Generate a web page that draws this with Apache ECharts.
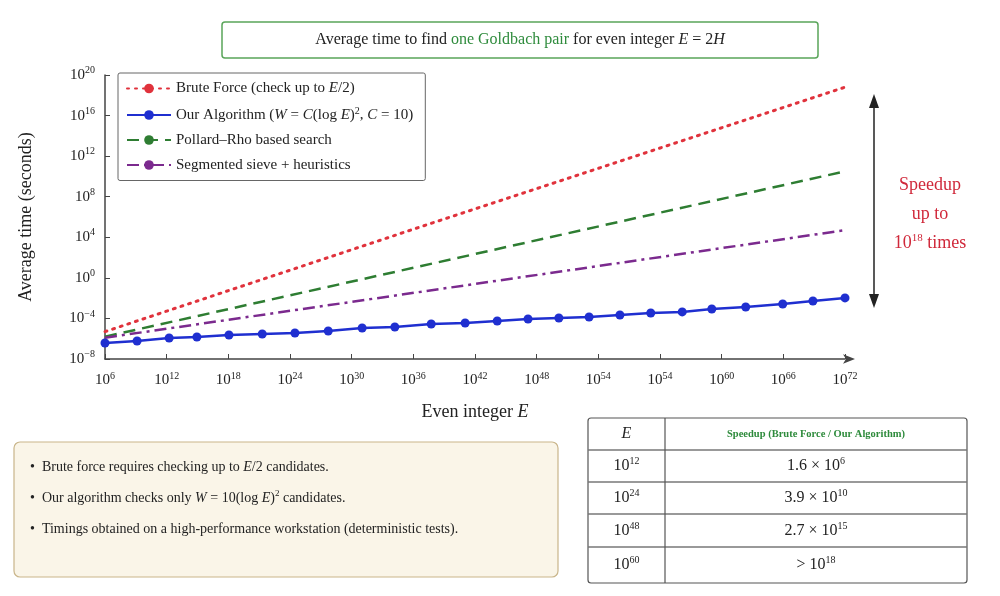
<!DOCTYPE html>
<html>
<head>
<meta charset="utf-8">
<script src="https://cdn.jsdelivr.net/npm/echarts@6/dist/echarts.min.js"></script>
<style>
	html, body { margin: 0; padding: 0; background: #fff; }
	#chart { width: 1000px; height: 596px; }
</style>
</head>
<body>
<div id="chart"></div>
<script>
( function() {

	const serif = '"Liberation Serif", "DejaVu Serif", serif';

	// x positions are in axis units (one unit per labelled tick), y values are log10(seconds)
	const xLabels = ['6', '12', '18', '24', '30', '36', '42', '48', '54', '54', '60', '66', '72'];

	const ours = [
		[0, -6.42], [0.52, -6.22], [1.04, -5.93], [1.49, -5.83], [2.01, -5.63], [2.55, -5.53],
		[3.08, -5.44], [3.62, -5.24], [4.17, -4.94], [4.70, -4.84], [5.29, -4.55], [5.84, -4.45],
		[6.36, -4.25], [6.86, -4.06], [7.36, -3.96], [7.85, -3.86], [8.35, -3.66], [8.85, -3.46],
		[9.36, -3.36], [9.84, -3.07], [10.39, -2.87], [10.99, -2.58], [11.48, -2.28], [12, -1.98]
	];
	const brute = [[0, -5.3], [5.3, 5.4], [12, 18.8]];
	const pollard = [[0, -5.8], [12, 10.5]];
	const sieve = [[0, -5.9], [12, 4.7]];

	const table = [
		['12', '1.6 × 10', '6'],
		['24', '3.9 × 10', '10'],
		['48', '2.7 × 10', '15'],
		['60', '> 10', '18']
	];

	// graphic (zrender) text uses fill, axis labels use color
	const txt = function(size, col, extra) {
		return Object.assign({ fontFamily: serif, fontSize: size, fill: col, color: col }, extra || {});
	};

	const rich = {
		b: txt(15, '#222'),
		s: txt(10, '#222', { padding: [0, 0, 9, 0] })
	};

	const graphics = [];

	// title box
	graphics.push({
		type: 'rect', shape: { x: 222, y: 22, width: 596, height: 36, r: 3 },
		style: { fill: '#fff', stroke: '#5aa55a', lineWidth: 1.5 }
	});
	graphics.push({
		type: 'text', x: 520, y: 40,
		style: {
			text: '{t|Average time to find }{g|one Goldbach pair}{t| for even integer }{i|E}{t| = 2}{i|H}',
			rich: { t: txt(16, '#222'), g: txt(16, '#2e8b3c'), i: txt(16, '#222', { fontStyle: 'italic' }) },
			align: 'center', verticalAlign: 'middle'
		}
	});

	// speedup arrow
	graphics.push({
		type: 'line', shape: { x1: 874, y1: 104, x2: 874, y2: 298 },
		style: { stroke: '#222', lineWidth: 1.5 }
	});
	graphics.push({ type: 'polygon', shape: { points: [[874, 94], [869, 108], [879, 108]] }, style: { fill: '#222' } });
	graphics.push({ type: 'polygon', shape: { points: [[874, 308], [869, 294], [879, 294]] }, style: { fill: '#222' } });
	graphics.push({
		type: 'text', x: 930, y: 214,
		style: {
			text: '{r|Speedup}\n{r|up to}\n{r|10}{rs|18}{r| times}',
			rich: { r: txt(18, '#d0283a', { lineHeight: 29 }), rs: txt(11, '#d0283a', { padding: [0, 0, 10, 0] }) },
			align: 'center', verticalAlign: 'middle'
		}
	});

	// notes box
	graphics.push({
		type: 'rect', shape: { x: 14, y: 442, width: 544, height: 135, r: 6 },
		style: { fill: '#faf5e8', stroke: '#c9b58a', lineWidth: 1.2 }
	});
	const notes = [
		'{n|•  Brute force requires checking up to }{ni|E}{n|/2 candidates.}',
		'{n|•  Our algorithm checks only }{ni|W}{n| = 10(log }{ni|E}{n|)}{ns|2}{n| candidates.}',
		'{n|•  Timings obtained on a high-performance workstation (deterministic tests).}'
	];
	const noteRich = {
		n: txt(14, '#222'),
		ni: txt(14, '#222', { fontStyle: 'italic' }),
		ns: txt(9, '#222', { padding: [0, 0, 8, 0] })
	};
	notes.forEach(function(line, i) {
		graphics.push({
			type: 'text', x: 30, y: 467 + i * 31,
			style: { text: line, rich: noteRich, verticalAlign: 'middle' }
		});
	});

	// speedup table
	const tx = 588, tw = 379, cx = 665;
	const rows = [418, 450, 482, 514, 547, 583];
	graphics.push({
		type: 'rect', shape: { x: tx, y: rows[0], width: tw, height: rows[5] - rows[0], r: 3 },
		style: { fill: '#fff', stroke: '#555', lineWidth: 1.2 }
	});
	for (let i = 1; i < 5; i++) {
		graphics.push({ type: 'line', shape: { x1: tx, y1: rows[i], x2: tx + tw, y2: rows[i] }, style: { stroke: '#777', lineWidth: 1.5 } });
	}
	graphics.push({ type: 'line', shape: { x1: cx, y1: rows[0], x2: cx, y2: rows[5] }, style: { stroke: '#555', lineWidth: 1.2 } });
	const tRich = {
		c: txt(16, '#222'),
		ci: txt(16, '#222', { fontStyle: 'italic' }),
		cs: txt(10, '#222', { padding: [0, 0, 9, 0] }),
		h: txt(10.5, '#2e8b3c', { fontWeight: 'bold' })
	};
	graphics.push({ type: 'text', x: (tx + cx) / 2, y: (rows[0] + rows[1]) / 2, style: { text: '{ci|E}', rich: tRich, align: 'center', verticalAlign: 'middle' } });
	graphics.push({ type: 'text', x: (cx + tx + tw) / 2, y: (rows[0] + rows[1]) / 2, style: { text: '{h|Speedup (Brute Force / Our Algorithm)}', rich: tRich, align: 'center', verticalAlign: 'middle' } });
	table.forEach(function(r, i) {
		const y = (rows[i + 1] + rows[i + 2]) / 2;
		graphics.push({ type: 'text', x: (tx + cx) / 2, y: y, style: { text: '{c|10}{cs|' + r[0] + '}', rich: tRich, align: 'center', verticalAlign: 'middle' } });
		graphics.push({ type: 'text', x: (cx + tx + tw) / 2, y: y, style: { text: '{c|' + r[1] + '}{cs|' + r[2] + '}', rich: tRich, align: 'center', verticalAlign: 'middle' } });
	});

	const option = {
		backgroundColor: '#fff',
		animation: false,
		grid: { left: 105, right: 155, top: 75, bottom: 237 },
		legend: {
			orient: 'vertical', left: 118, top: 73,
			backgroundColor: '#fff', borderColor: '#666', borderWidth: 1, borderRadius: 2,
			padding: [8, 12, 8, 8], itemGap: 10, itemWidth: 44, itemHeight: 12,
			textStyle: { fontFamily: serif, fontSize: 15, color: '#222', rich: {
				n: txt(15, '#222'),
				it: txt(15, '#222', { fontStyle: 'italic' }),
				sp: txt(10, '#222', { padding: [0, 0, 8, 0] })
			} },
			formatter: function(name) {
				if (name === 'brute') return '{n|Brute Force (check up to }{it|E}{n|/2)}';
				if (name === 'ours') return '{n|Our Algorithm (}{it|W}{n| = }{it|C}{n|(log }{it|E}{n|)}{sp|2}{n|, }{it|C}{n| = 10)}';
				if (name === 'pollard') return '{n|Pollard–Rho based search}';
				return '{n|Segmented sieve + heuristics}';
			}
		},
		xAxis: {
			type: 'value', min: 0, max: 12, interval: 1,
			name: '{n|Even integer }{i|E}', nameLocation: 'middle', nameGap: 44,
			nameTextStyle: { rich: { n: txt(18, '#222'), i: txt(18, '#222', { fontStyle: 'italic' }) } },
			splitLine: { show: false },
			axisLine: { onZero: false, lineStyle: { color: '#444', width: 1.5 }, symbol: ['none', 'arrow'], symbolSize: [7, 12], symbolOffset: [0, 10] },
			axisTick: { show: true, inside: true, length: 5, lineStyle: { color: '#444' } },
			axisLabel: {
				margin: 12,
				formatter: function(v) { return '{b|10}{s|' + xLabels[Math.round(v)] + '}'; },
				rich: rich
			}
		},
		yAxis: {
			type: 'value', min: -8, max: 20, interval: 4,
			name: 'Average time (seconds)', nameLocation: 'middle', nameGap: 70,
			nameTextStyle: { fontFamily: serif, fontSize: 18, color: '#222' },
			splitLine: { show: false },
			axisLine: { show: true, onZero: false, lineStyle: { color: '#444', width: 1.5 } },
			axisTick: { show: true, inside: true, length: 5, lineStyle: { color: '#444' } },
			axisLabel: {
				margin: 10,
				formatter: function(v) { return '{b|10}{s|' + (v < 0 ? '−' + (-v) : v) + '}'; },
				rich: rich
			}
		},
		series: [
			{ name: 'brute', type: 'line', data: brute, symbol: 'none', color: '#e0323c',
				lineStyle: { color: '#e0323c', width: 3, type: [2, 6], cap: 'round' } },
			{ name: 'ours', type: 'line', data: ours, symbol: 'circle', symbolSize: 9, color: '#1f2fd0',
				lineStyle: { color: '#1f2fd0', width: 2.5 }, itemStyle: { color: '#1f2fd0' }, z: 5 },
			{ name: 'pollard', type: 'line', data: pollard, symbol: 'none', color: '#2e7d32',
				lineStyle: { color: '#2e7d32', width: 2.5, type: [12, 7] } },
			{ name: 'sieve', type: 'line', data: sieve, symbol: 'none', color: '#7b2a8e',
				lineStyle: { color: '#7b2a8e', width: 2.5, type: [12, 5, 3, 5] } }
		],
		graphic: graphics
	};

	document.addEventListener('DOMContentLoaded', function() {
		const myChart = echarts.init(document.getElementById('chart'));
		myChart.setOption(option);
	});

}() );
</script>
</body>
</html>
